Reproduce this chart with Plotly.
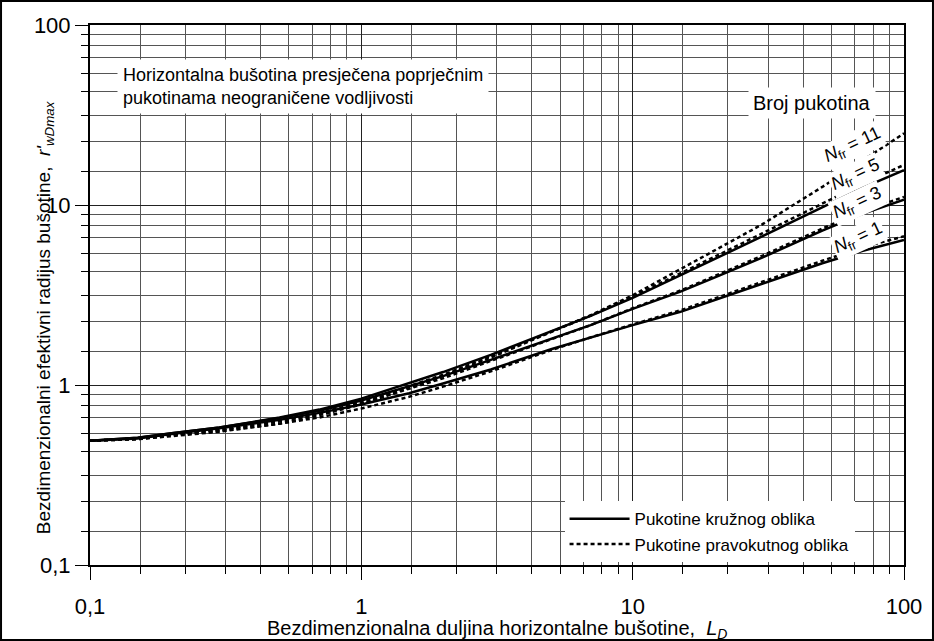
import plotly.graph_objects as go

# bezdimenzionalna duljina horizontalne bušotine L_D
L_D = [0.1, 0.15, 0.2, 0.3, 0.5, 0.7, 1, 1.5, 2, 3, 5, 7, 10, 15, 20, 30, 50, 70, 100]

# kružne pukotine (puna linija)
circ_n1 = [0.49, 0.505, 0.535, 0.575, 0.64, 0.70, 0.78, 0.90, 1.02, 1.22, 1.58, 1.84, 2.15, 2.55, 2.95, 3.65, 4.75, 5.55, 6.4]
circ_n3 = [0.49, 0.51, 0.54, 0.58, 0.655, 0.72, 0.82, 0.98, 1.12, 1.38, 1.80, 2.15, 2.65, 3.30, 3.95, 5.10, 7.2, 8.9, 10.7]
circ_n5 = [0.49, 0.51, 0.54, 0.58, 0.66, 0.73, 0.84, 1.02, 1.18, 1.47, 1.98, 2.42, 3.05, 4.05, 5.0, 6.7, 9.7, 12.4, 15.6]

# pravokutne pukotine (isprekidana linija)
rect_n1 = [0.49, 0.50, 0.525, 0.555, 0.61, 0.66, 0.74, 0.86, 0.98, 1.19, 1.56, 1.84, 2.17, 2.60, 3.02, 3.75, 4.9, 5.8, 6.7]
rect_n3 = [0.49, 0.505, 0.53, 0.565, 0.63, 0.69, 0.79, 0.95, 1.09, 1.36, 1.79, 2.15, 2.67, 3.35, 4.02, 5.22, 7.4, 9.2, 11.1]
rect_n5 = [0.49, 0.505, 0.53, 0.565, 0.63, 0.70, 0.80, 0.98, 1.14, 1.44, 1.97, 2.43, 3.10, 4.15, 5.15, 6.95, 10.2, 13.1, 16.7]
rect_n11 = [0.49, 0.50, 0.52, 0.55, 0.61, 0.68, 0.78, 0.96, 1.12, 1.42, 1.96, 2.44, 3.15, 4.40, 5.55, 7.8, 12.6, 17.5, 25.0]

major_vals = [0.1, 1, 10, 100]
major_text = ["0,1", "1", "10", "100"]
# grid lines as they sit on the original scan (not exact log positions)
grid_mult = [1.53, 2.24, 3.16, 4.25, 5.4, 6.58, 7.69, 8.83]
minor_vals = [m * d for d in (0.1, 1, 10) for m in grid_mult]

curve_labels = ["11", "5", "3", "1"]
label_pos = [(0.937, 0.776), (0.940, 0.722), (0.943, 0.669), (0.944, 0.604)]

FONT = "Arial, Liberation Sans, sans-serif"

fig = go.Figure()

solid = [circ_n1, circ_n3, circ_n5]
dashed = [rect_n1, rect_n3, rect_n5, rect_n11]

for i, ys in enumerate(solid):
    fig.add_trace(go.Scatter(
        x=L_D, y=ys, mode="lines", line=dict(color="black", width=2.5),
        name="Pukotine kružnog oblika", legendgroup="circ", showlegend=(i == 0),
    ))
for i, ys in enumerate(dashed):
    fig.add_trace(go.Scatter(
        x=L_D, y=ys, mode="lines", line=dict(color="black", width=2.5, dash="4px,3px"),
        name="Pukotine pravokutnog oblika", legendgroup="rect", showlegend=(i == 0),
    ))

axis_common = dict(
    type="log", tickmode="array", tickvals=major_vals, ticktext=major_text,
    ticks="outside", ticklen=13, tickwidth=1, tickcolor="black",
    showgrid=True, gridcolor="#222", gridwidth=1,
    showline=True, linecolor="black", linewidth=2, mirror=True,
    tickfont=dict(family=FONT, size=22, color="black"),
    minor=dict(tickmode="array", tickvals=minor_vals, ticks="outside", ticklen=7,
               tickcolor="black", showgrid=True, gridcolor="#555", gridwidth=1),
    zeroline=False, automargin=False,
)

fig.update_layout(
    width=934, height=641,
    paper_bgcolor="white", plot_bgcolor="white",
    margin=dict(l=90, r=30, t=25, b=76),
    font=dict(family=FONT, color="black"),
    xaxis=dict(range=[-1, 2], **axis_common, ticklabelstandoff=8),
    yaxis=dict(range=[-1, 2], **axis_common),
    legend=dict(x=0.583, y=0.005, xanchor="left", yanchor="bottom", itemwidth=60,
                bgcolor="white", font=dict(size=17), tracegroupgap=0),
    showlegend=True,
)

# axis titles as annotations so they sit where the original has them
fig.add_annotation(
    xref="paper", yref="paper", x=0.5, y=-0.119,
    xanchor="center", yanchor="middle", showarrow=False,
    text="Bezdimenzionalna duljina horizontalne bušotine,  <i>L<sub>D</sub></i>",
    font=dict(size=20),
)
fig.add_annotation(
    xref="paper", yref="paper", x=-0.0553, y=0.459, textangle=-90,
    xanchor="center", yanchor="middle", showarrow=False,
    text="Bezdimenzionalni efektivni radijus bušotine,  <i>r'<sub>wDmax</sub></i>",
    font=dict(size=19),
)
fig.add_annotation(
    xref="paper", yref="paper", x=0.033, y=0.937, xanchor="left", yanchor="top",
    text="Horizontalna bušotina presječena poprječnim<br>pukotinama neograničene vodljivosti",
    align="left", showarrow=False, bgcolor="white", borderpad=5,
    font=dict(size=18),
)
fig.add_annotation(
    xref="paper", yref="paper", x=0.887, y=0.856, xanchor="center", yanchor="middle",
    text="Broj pukotina", showarrow=False, bgcolor="white", borderpad=4,
    font=dict(size=20),
)
for lab, (px, py) in zip(curve_labels, label_pos):
    fig.add_annotation(
        xref="paper", yref="paper", x=px, y=py, xanchor="center", yanchor="middle",
        text=f"<i>N</i><sub>fr</sub> = {lab}", textangle=-25,
        showarrow=False, bgcolor="white", borderpad=1,
        font=dict(size=18),
    )

# outer frame of the figure
fig.add_shape(type="rect", xref="paper", yref="paper",
              x0=-0.1093, x1=1.0356, y0=-0.1389, y1=1.0444,
              line=dict(color="black", width=2))

fig.write_html("out.html", config={"displayModeBar": False},
               post_script="document.body.style.margin='0';")
